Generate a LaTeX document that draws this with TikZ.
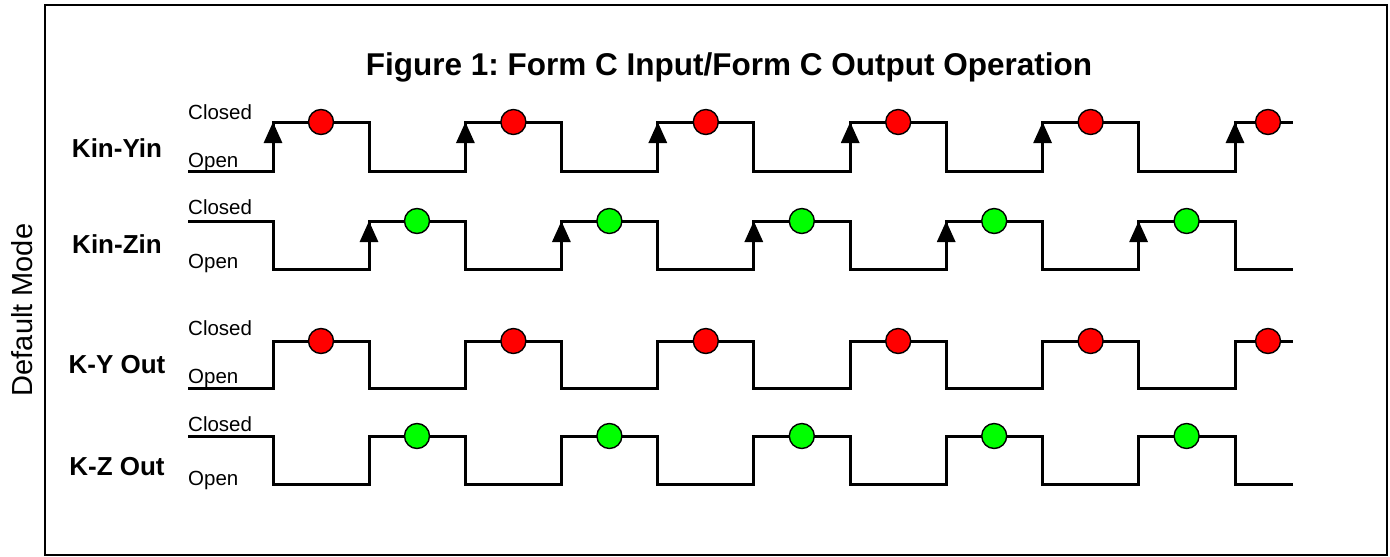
\documentclass[tikz,border=0pt]{standalone}
\usepackage{fontspec}
\setmainfont{Liberation Sans}
\usetikzlibrary{arrows.meta}
\definecolor{lampred}{RGB}{255, 0, 0}
\definecolor{lampgreen}{RGB}{0, 255, 0}
\tikzset{
	wave/.style={line width=3pt, line join=miter},
	lamp/.style={circle, draw, line width=1.4pt, minimum size=25pt, inner sep=0pt},
	rise/.style={line width=3pt, -{Triangle[width=18pt,length=21pt]}},
	state/.style={anchor=base west, inner xsep=0pt, font=\fontsize{20.5}{24}\selectfont},
	signal/.style={anchor=base, font=\fontsize{26}{30}\selectfont\bfseries}
}
\newcommand{\pd}{192.4}
\frenchspacing

\begin{document}
\begin{tikzpicture}[x=1pt,y=-1pt]
				\useasboundingbox (0,0) rectangle (1390,557);
				\draw[line width=2.8pt] (45,5) rectangle (1387,555); % cadre
				\node[anchor=base, font=\fontsize{31.5}{36}\selectfont\bfseries] (title) at (729,75) {Figure 1: Form C Input/Form C Output Operation};
				\node[anchor=base, rotate=90, font=\fontsize{29}{34}\selectfont] (mode) at (32,310) {Default Mode};
				% noms des signaux
				\node[signal] (kinyin) at (117,157) {Kin-Yin};
				\node[signal] (kinzin) at (117,253) {Kin-Zin};
				\node[signal] (kyout) at (117,373) {K-Y Out};
				\node[signal] (kzout) at (117,475) {K-Z Out};
				% etats
				\node[state] (yinclosed) at (188,119) {Closed};
				\node[state] (yinopen) at (188,167) {Open};
				\node[state] (zinclosed) at (188,214) {Closed};
				\node[state] (zinopen) at (188,268) {Open};
				\node[state] (youtclosed) at (188,335) {Closed};
				\node[state] (youtopen) at (188,383) {Open};
				\node[state] (zoutclosed) at (188,431) {Closed};
				\node[state] (zoutopen) at (188,485) {Open};
				% Kin-Yin et K-Y Out
				\foreach \hi/\lo in {122/171, 341/388}{
					\draw[wave] (188,\lo) \foreach \k in {0,...,4}{
						-- ({273+\k*\pd},\lo) -- ({273+\k*\pd},\hi) -- ({369+\k*\pd},\hi) -- ({369+\k*\pd},\lo)}
						-- ({273+5*\pd},\lo) -- ({273+5*\pd},\hi) -- (1293,\hi);}
				% Kin-Zin et K-Z Out
				\foreach \hi/\lo in {221/269, 436/484}{
					\draw[wave] (188,\hi) \foreach \k in {0,...,4}{
						-- ({273+\k*\pd},\hi) -- ({273+\k*\pd},\lo) -- ({369+\k*\pd},\lo) -- ({369+\k*\pd},\hi)}
						-- ({273+5*\pd},\hi) -- ({273+5*\pd},\lo) -- (1293,\lo);}
				% fronts montants des entrees
				\foreach \k in {0,...,5}{
					\draw[rise] ({273+\k*\pd},171) -- ({273+\k*\pd},122);}
				\foreach \k in {0,...,4}{
					\draw[rise] ({369+\k*\pd},269) -- ({369+\k*\pd},221);}
				% voyants
				\foreach \k in {0,...,4}{
					\node[lamp, fill=lampred] (yin\k) at ({321+\k*\pd},122) {};
					\node[lamp, fill=lampred] (yout\k) at ({321+\k*\pd},341) {};}
				\node[lamp, fill=lampred] (yin5) at (1268,122) {};
				\node[lamp, fill=lampred] (yout5) at (1268,341) {};
				\foreach \k in {0,...,4}{
					\node[lamp, fill=lampgreen] (zin\k) at ({417+\k*\pd},221) {};
					\node[lamp, fill=lampgreen] (zout\k) at ({417+\k*\pd},436) {};}
			\end{tikzpicture}
\end{document}
